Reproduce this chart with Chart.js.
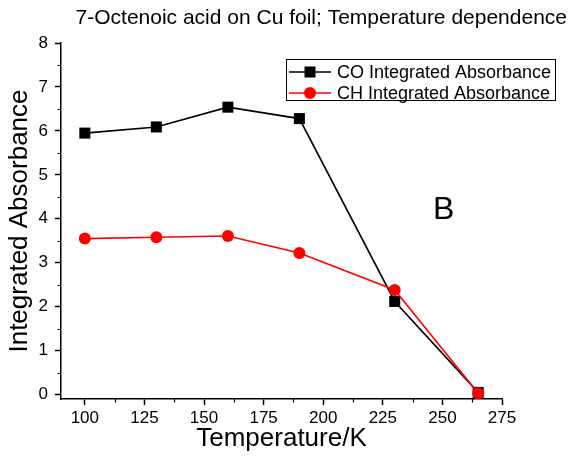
<!DOCTYPE html>
<html>
<head>
<meta charset="utf-8">
<script src="https://cdn.jsdelivr.net/npm/chart.js@4/dist/chart.umd.min.js"></script>
<style>
  body { margin: 0; background: #fff; }
</style>
</head>
<body>
<canvas id="grafico" width="576" height="460"></canvas>
<script>
const temperatura = [100, 130, 160, 190, 230, 265];
const co_absorbancia = [5.95, 6.09, 6.54, 6.28, 2.12, 0.05];
const ch_absorbancia = [3.55, 3.58, 3.61, 3.22, 2.38, 0.03];
const x_ticks = [100, 125, 150, 175, 200, 225, 250, 275];
const y_ticks = [0, 1, 2, 3, 4, 5, 6, 7, 8];

const FUENTE = "'Liberation Sans', Arial, sans-serif";

function puntos(valores) {
  return temperatura.map(function (t, i) { return { x: t, y: valores[i] }; });
}

// ticks menores, titulo, leyenda con borde y la letra B
const extras = {
  id: 'extras',
  afterDraw: function (chart) {
    const ctx = chart.ctx;
    const sx = chart.scales.x;
    const sy = chart.scales.y;
    const area = chart.chartArea;

    ctx.save();
    ctx.strokeStyle = '#000';
    ctx.lineWidth = 1.2;
    ctx.beginPath();
    for (let v = 112.5; v < 275; v += 25) {
      const px = Math.round(sx.getPixelForValue(v)) + 0.5;
      ctx.moveTo(px, area.bottom);
      ctx.lineTo(px, area.bottom + 3.5);
    }
    for (let v = 0.5; v < 8; v += 1) {
      const py = Math.round(sy.getPixelForValue(v)) + 0.5;
      ctx.moveTo(area.left, py);
      ctx.lineTo(area.left - 3.5, py);
    }
    ctx.stroke();

    // titulo
    ctx.fillStyle = '#000';
    ctx.font = '21px ' + FUENTE;
    ctx.textAlign = 'right';
    ctx.textBaseline = 'middle';
    ctx.fillText('7-Octenoic acid on Cu foil; Temperature dependence', 567, 18);

    // letra B
    ctx.font = '32px ' + FUENTE;
    ctx.textAlign = 'center';
    ctx.fillText('B', sx.getPixelForValue(250.5), sy.getPixelForValue(4.2));

    // leyenda
    ctx.lineWidth = 1;
    ctx.strokeRect(286.5, 59.5, 269, 41);
    ctx.font = '18px ' + FUENTE;
    ctx.textAlign = 'left';
    chart.data.datasets.forEach(function (ds, i) {
      const y = 72 + i * 21;
      ctx.strokeStyle = ds.borderColor;
      ctx.lineWidth = ds.borderWidth;
      ctx.beginPath();
      ctx.moveTo(289, y);
      ctx.lineTo(331, y);
      ctx.stroke();
      ctx.fillStyle = ds.pointBackgroundColor;
      ctx.beginPath();
      if (ds.pointStyle === 'rect') {
        const s = ds.pointRadius * Math.SQRT1_2;
        ctx.rect(310 - s, y - s, 2 * s, 2 * s);
      } else {
        ctx.arc(310, y, ds.pointRadius, 0, Math.PI * 2);
      }
      ctx.fill();
      ctx.fillStyle = '#000';
      ctx.fillText(ds.label, 337, y + 1);
    });
    ctx.restore();
  }
};

const ctx = document.getElementById('grafico').getContext('2d');

const grafico = new Chart(ctx, {
  type: 'line',
  data: {
    datasets: [
      {
        label: 'CO Integrated Absorbance',
        data: puntos(co_absorbancia),
        borderColor: '#000',
        backgroundColor: '#000',
        pointBackgroundColor: '#000',
        pointBorderWidth: 0,
        borderWidth: 1.6,
        pointStyle: 'rect',
        pointRadius: 7.8,
        order: 2
      },
      {
        label: 'CH Integrated Absorbance',
        data: puntos(ch_absorbancia),
        borderColor: '#ff0000',
        backgroundColor: '#ff0000',
        pointBackgroundColor: '#ff0000',
        pointBorderWidth: 0,
        borderWidth: 1.6,
        pointStyle: 'circle',
        pointRadius: 6,
        order: 1
      }
    ]
  },
  options: {
    responsive: false,
    animation: false,
    layout: { padding: { top: 43, right: 74, left: 0, bottom: 0 } },
    plugins: {
      legend: { display: false },
      tooltip: { enabled: false }
    },
    scales: {
      x: {
        type: 'linear',
        min: 90,
        max: 275,
        afterBuildTicks: function (scale) {
          scale.ticks = x_ticks.map(function (v) { return { value: v }; });
        },
        afterFit: function (scale) { scale.height = 61; },
        grid: { drawOnChartArea: false, tickLength: 6, tickColor: '#000', tickWidth: 1.5 },
        border: { color: '#000', width: 1.5 },
        ticks: { color: '#000', padding: 3, maxRotation: 0, font: { family: FUENTE, size: 17 } },
        title: {
          display: true,
          text: 'Temperature/K',
          color: '#000',
          padding: { top: 2, bottom: 6 },
          font: { family: FUENTE, size: 26 }
        }
      },
      y: {
        min: -0.1,
        max: 8,
        afterBuildTicks: function (scale) {
          scale.ticks = y_ticks.map(function (v) { return { value: v }; });
        },
        afterFit: function (scale) { scale.width = 61; },
        grid: { drawOnChartArea: false, tickLength: 6, tickColor: '#000', tickWidth: 1.5 },
        border: { color: '#000', width: 1.5 },
        ticks: { color: '#000', padding: 7, font: { family: FUENTE, size: 17 } },
        title: {
          display: true,
          text: 'Integrated Absorbance',
          color: '#000',
          padding: { top: 4, bottom: 0 },
          font: { family: FUENTE, size: 26 }
        }
      }
    }
  },
  plugins: [extras]
});
</script>
</body>
</html>
